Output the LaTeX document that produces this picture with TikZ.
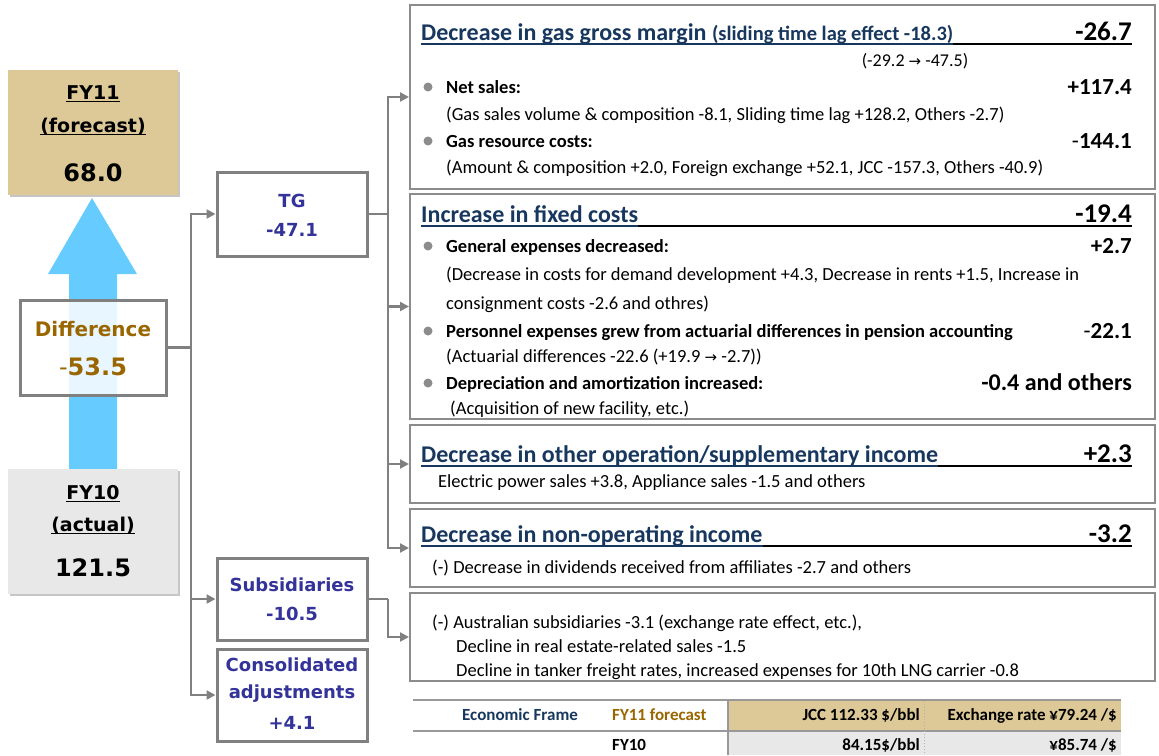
\documentclass[tikz,border=0pt]{standalone}
\usepackage{fontspec}
\setmainfont{Carlito}
\newfontfamily\vfont{DejaVu Sans}
\newfontfamily\djv{DejaVu Sans}
\usetikzlibrary{arrows.meta}
\definecolor{tanfill}{HTML}{DDC997}
\definecolor{grayfill}{HTML}{E8E8E8}
\definecolor{arrowblue}{HTML}{66CCFF}
\definecolor{boxgray}{HTML}{808080}
\definecolor{rgray}{HTML}{8C8C8C}
\definecolor{navy}{HTML}{17375E}
\definecolor{lblue}{HTML}{333399}
\definecolor{gold}{HTML}{996600}
\definecolor{bulgray}{HTML}{8C8C8C}
\newcommand\myul[1]{\setbox0\hbox{#1}\rlap{\rule[-0.16em]{\wd0}{0.08em}}\box0}
\newcommand\rarr{{\djv\fontsize{15}{15}\selectfont →}}
\tikzset{
  fybox/.style={inner sep=0, minimum width=170, minimum height=125},
  lbox/.style={draw=boxgray, line width=3pt, fill=white, inner sep=0, minimum width=150},
  rbox/.style={draw=rgray, line width=2pt, inner sep=0, minimum width=745},
  line/.style={draw=boxgray, line width=2.2pt},
  conn/.style={draw=boxgray, line width=2.2pt, -{Triangle[length=9pt,width=9pt]}},
  lt/.style={anchor=base, inner sep=0, font=\vfont\bfseries\fontsize{18}{18}\selectfont, text=lblue},
  ft/.style={anchor=base, inner sep=0, font=\vfont\bfseries\fontsize{19}{19}\selectfont},
  big/.style={anchor=base, inner sep=0, font=\vfont\bfseries\fontsize{24}{24}\selectfont},
  txt/.style={anchor=base west, inner sep=0, font=\fontsize{18.5}{20}\selectfont},
  btxt/.style={anchor=base west, inner sep=0, font=\bfseries\fontsize{18.5}{20}\selectfont},
  head/.style={anchor=base west, inner sep=0, text=navy, font=\bfseries\fontsize{24}{26}\selectfont},
  hval/.style={anchor=base east, inner sep=0, font=\bfseries\fontsize{27}{28}\selectfont},
  val/.style={anchor=base east, inner sep=0, font=\bfseries\fontsize{23}{24}\selectfont},
  bul/.style={circle, fill=bulgray, inner sep=0, minimum size=9},
  ulnavy/.style={draw=navy, line width=1.8pt},
  ulblack/.style={draw=black, line width=1.8pt},
  tline/.style={draw=boxgray!80, line width=2pt},
  tt/.style={inner sep=0, font=\bfseries\fontsize{17}{18}\selectfont}
}
\begin{document}
\begin{tikzpicture}[x=1pt,y=-1pt]
\useasboundingbox (0,0) rectangle (1159,755);

% big blue arrow
\fill[arrowblue] (92,198) -- (137,274) -- (117,274) -- (117,469) -- (69,469) -- (69,274) -- (48,274) -- cycle;

% left boxes
\fill[gray!45] (10,72) rectangle (180,197);
\node[fybox, fill=tanfill] (fy11) at (93,132.5) {};
\node[ft] (fy11a) at (93,99) {\myul{FY11}};
\node[ft] (fy11b) at (93,132) {\myul{(forecast)}};
\node[big] (fy11c) at (93,181) {68.0};

\fill[gray!45] (10,471) rectangle (180,596);
\node[fybox, fill=grayfill] (fy10) at (93,531.5) {};
\node[ft] (fy10a) at (93,499) {\myul{FY10}};
\node[ft] (fy10b) at (93,531) {\myul{(actual)}};
\node[big] (fy10c) at (93,576) {121.5};

\node[lbox, fill opacity=0.85, minimum width=146, minimum height=95] (diff) at (93,347.5) {};
\node[lt, text=gold, font=\vfont\bfseries\fontsize{20}{20}\selectfont] (diffa) at (93,336) {Difference};
\node[big, text=gold] (diffb) at (93,375) {{\mdseries-}53.5};

\node[lbox, minimum height=84] (tg) at (292,214) {};
\node[lt] (tga) at (292,207) {TG};
\node[lt] (tgb) at (292,236) {-47.1};

\node[lbox, minimum height=82] (subs) at (292,599) {};
\node[lt] (subsa) at (292,591) {Subsidiaries};
\node[lt] (subsb) at (292,620) {-10.5};

\node[lbox, minimum height=92] (cons) at (292,695) {};
\node[lt] (consa) at (292,671) {Consolidated};
\node[lt] (consb) at (292,698) {adjustments};
\node[lt] (consc) at (292,729) {+4.1};

% right boxes
\node[rbox, minimum height=184] (b1) at (782.5,97) {};
\node[rbox, minimum height=225] (b2) at (782.5,306.5) {};
\node[rbox, minimum height=78] (b3) at (782.5,464) {};
\node[rbox, minimum height=78] (b4) at (782.5,548) {};
\node[rbox, minimum height=88] (b5) at (782.5,637) {};

% connectors
\coordinate (j1) at (191,347.5);
\draw[line] (diff.east) -- (j1);
\draw[conn] (j1) |- (tg.west);
\draw[conn] (j1) |- (subs.west);
\draw[conn] (j1) |- (cons.west);
\coordinate (j2) at (388,214);
\draw[line] (tg.east) -- (j2);
\draw[conn] (j2) |- (b1.west);
\draw[conn] (j2) |- (b2.west);
\draw[conn] (j2) |- (b3.west);
\draw[conn] (j2) |- (b4.west);
\coordinate (j3) at (388,599);
\draw[line] (subs.east) -- (j3);
\draw[conn] (j3) |- (b5.west);

% box 1
\node[head] (h1) at (421,40) {Decrease in gas gross margin {\fontsize{20.5}{22}\selectfont(sliding time lag effect -18.3)}};
\node[hval] (v1) at (1132,40) {-26.7};
\draw[ulnavy] ([yshift=-4pt]h1.base west) -- ([yshift=-4pt]h1.base east);
\draw[ulblack] ([yshift=-4pt]h1.base east) -- ([yshift=-4pt]v1.base east);
\node[txt, anchor=base, font=\fontsize{18}{18}\selectfont] (n1) at (915,66) {(-29.2 \rarr{} -47.5)};
\node[bul] (bu11) at (428,87) {};
\node[btxt] (t11) at (446,93) {Net sales:};
\node[val] (v11) at (1132,94) {+117.4};
\node[txt] (t12) at (446,120) {(Gas sales volume \& composition -8.1, Sliding time lag +128.2, Others -2.7)};
\node[bul] (bu12) at (428,141) {};
\node[btxt] (t13) at (446,147) {Gas resource costs:};
\node[val] (v12) at (1132,148) {{\mdseries-}144.1};
\node[txt] (t14) at (446,173) {(Amount \& composition +2.0, Foreign exchange +52.1, JCC -157.3, Others -40.9)};

% box 2
\node[head] (h2) at (421,222) {Increase in fixed costs};
\node[hval] (v2) at (1132,222) {-19.4};
\draw[ulnavy] ([yshift=-4pt]h2.base west) -- ([yshift=-4pt]h2.base east);
\draw[ulblack] ([yshift=-4pt]h2.base east) -- ([yshift=-4pt]v2.base east);
\node[bul] (bu21) at (428,246) {};
\node[btxt] (t21) at (446,252) {General expenses decreased:};
\node[val] (v21) at (1132,253) {+2.7};
\node[txt] (t22) at (446,280) {(Decrease in costs for demand development +4.3, Decrease in rents +1.5, Increase in};
\node[txt] (t23) at (446,309) {consignment costs -2.6 and othres)};
\node[bul] (bu22) at (428,331) {};
\node[btxt] (t24) at (446,337) {Personnel expenses grew from actuarial differences in pension accounting};
\node[val] (v22) at (1132,338) {{\mdseries-}22.1};
\node[txt] (t25) at (446,362) {(Actuarial differences -22.6 (+19.9 \rarr{} -2.7))};
\node[bul] (bu23) at (428,383) {};
\node[btxt] (t26) at (446,389) {Depreciation and amortization increased:};
\node[val, font=\bfseries\fontsize{24}{25}\selectfont] (v23) at (1132,390) {-0.4 and others};
\node[txt] (t27) at (450,414) {(Acquisition of new facility, etc.)};

% box 3
\node[head] (h3) at (421,462) {Decrease in other operation/supplementary income};
\node[hval] (v3) at (1132,462) {+2.3};
\draw[ulnavy] ([yshift=-4pt]h3.base west) -- ([yshift=-4pt]h3.base east);
\draw[ulblack] ([yshift=-4pt]h3.base east) -- ([yshift=-4pt]v3.base east);
\node[txt] (t31) at (438,487) {Electric power sales +3.8, Appliance sales -1.5 and others};

% box 4
\node[head] (h4) at (421,542) {Decrease in non-operating income};
\node[hval] (v4) at (1132,542) {-3.2};
\draw[ulnavy] ([yshift=-4pt]h4.base west) -- ([yshift=-4pt]h4.base east);
\draw[ulblack] ([yshift=-4pt]h4.base east) -- ([yshift=-4pt]v4.base east);
\node[txt] (t41) at (432,573) {(-) Decrease in dividends received from affiliates -2.7 and others};

% box 5
\node[txt] (t51) at (432,628) {(-) Australian subsidiaries -3.1 (exchange rate effect, etc.),};
\node[txt] (t52) at (456,652) {Decline in real estate-related sales -1.5};
\node[txt] (t53) at (456,676) {Decline in tanker freight rates, increased expenses for 10th LNG carrier -0.8};

% table
\fill[tanfill] (728,701) rectangle (1121,730);
\fill[grayfill] (728,732) rectangle (1121,755);
\draw[tline] (413,700) -- (1121,700);
\draw[tline] (413,731) -- (1121,731);
\draw[tline] (728,700) -- (728,755);
\draw[gray!60, dotted, line width=1pt] (924,701) -- (924,755);
\node[tt, anchor=base, text=navy] (e1) at (520,720) {Economic Frame};
\node[tt, anchor=base west, text=gold] (e2) at (612,720) {FY11 forecast};
\node[tt, anchor=base east] (e3) at (920,720) {JCC 112.33 \$/bbl};
\node[tt, anchor=base east] (e4) at (1117,720) {Exchange rate ¥79.24 /\$};
\node[tt, anchor=base west] (e5) at (612,750) {FY10};
\node[tt, anchor=base east] (e6) at (920,750) {84.15\$/bbl};
\node[tt, anchor=base east] (e7) at (1117,750) {¥85.74 /\$};
\end{tikzpicture}
\end{document}
